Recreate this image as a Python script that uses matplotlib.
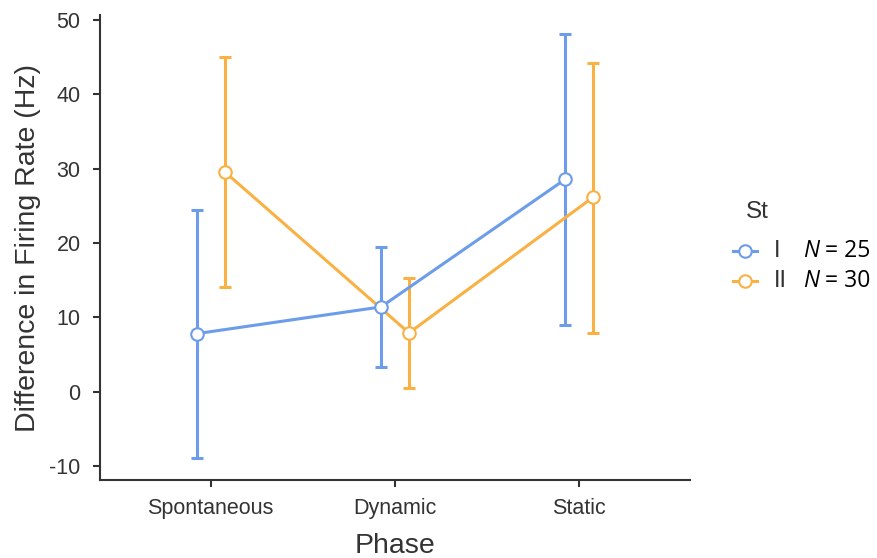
import matplotlib
matplotlib.use("Agg")
import matplotlib.pyplot as plt
from matplotlib.lines import Line2D
import numpy as np

plt.rcParams['font.family'] = ['Liberation Sans', 'DejaVu Sans']
plt.rcParams['axes.unicode_minus'] = False

phases = ["Spontaneous", "Dynamic", "Static"]
groups = ["I", "II"]
group_n = [25, 30]

mean_I = [7.8, 11.4, 28.6]
low_I = [-9.0, 3.3, 9.0]
high_I = [24.4, 19.5, 48.1]

mean_II = [29.6, 7.9, 26.2]
low_II = [14.1, 0.5, 7.9]
high_II = [45.0, 15.3, 44.2]

colors = ["#6C9CEA", "#F9B143"]
text_color = "#333333"

W, H = 877, 558
fig = plt.figure(figsize=(W / 100, H / 100), dpi=100)
ax = fig.add_axes([100 / W, 78 / H, 590 / W, 465 / H])

x = np.arange(len(phases))
dodge = 0.076
series = [(mean_I, low_I, high_I), (mean_II, low_II, high_II)]
for i, (m, lo, hi) in enumerate(series):
    m = np.array(m); lo = np.array(lo); hi = np.array(hi)
    xs = x + (i * 2 - 1) * dodge
    ax.errorbar(xs, m, yerr=[m - lo, hi - m], fmt='none', ecolor=colors[i],
                elinewidth=2.2, capsize=4, capthick=2.2, zorder=2)
    ax.plot(xs, m, color=colors[i], lw=2.2, zorder=3)
    ax.plot(xs, m, 'o', ms=9, mfc='white', mec=colors[i], mew=1.5, zorder=4)

ax.set_xlim(-0.6, 2.6)
ax.set_ylim(-11.9, 50.7)
ax.set_xticks(x)
ax.set_xticklabels(phases)
ax.set_yticks(np.arange(-10, 51, 10))
for s in ['top', 'right']:
    ax.spines[s].set_visible(False)
for s in ['left', 'bottom']:
    ax.spines[s].set_color(text_color)
    ax.spines[s].set_linewidth(1.5)
ax.tick_params(axis='both', colors=text_color, labelcolor=text_color,
               labelsize=15.5, length=5, width=1.5)
ax.tick_params(axis='x', pad=8)
ax.tick_params(axis='y', pad=9)
ax.set_xlabel("Phase", fontsize=20.5, color=text_color, labelpad=10)
ax.set_ylabel("Difference in Firing Rate (Hz)", fontsize=20.5, color=text_color, labelpad=6)

# legend drawn in figure pixel coordinates
def fx(px):
    return px / W

def fy(py):
    return 1 - py / H

fig.text(fx(746), fy(212), "St", fontsize=17.5, color=text_color, va='center', ha='left')
row_y = [251, 281]
for i, (g, n) in enumerate(zip(groups, group_n)):
    yy = fy(row_y[i])
    fig.add_artist(Line2D([fx(733), fx(757)], [yy, yy], color=colors[i], lw=2.2,
                          transform=fig.transFigure))
    fig.add_artist(Line2D([fx(745)], [yy], marker='o', ms=9, mfc='white',
                          mec=colors[i], mew=1.5, transform=fig.transFigure))
    fig.text(fx(774), yy, g, fontsize=17, color=text_color, va='center', ha='left')
    tn = fig.text(fx(803), yy, "N", fontsize=16.5, family='Open Sans',
                  style='italic', color='black', va='center', ha='left')
    fig.canvas.draw()
    bb = tn.get_window_extent(fig.canvas.get_renderer())
    fig.text(bb.x1 / W, yy, f" = {n}", fontsize=16.5, family='Open Sans',
             color='black', va='center', ha='left')

fig.savefig("out.png", dpi=100)
